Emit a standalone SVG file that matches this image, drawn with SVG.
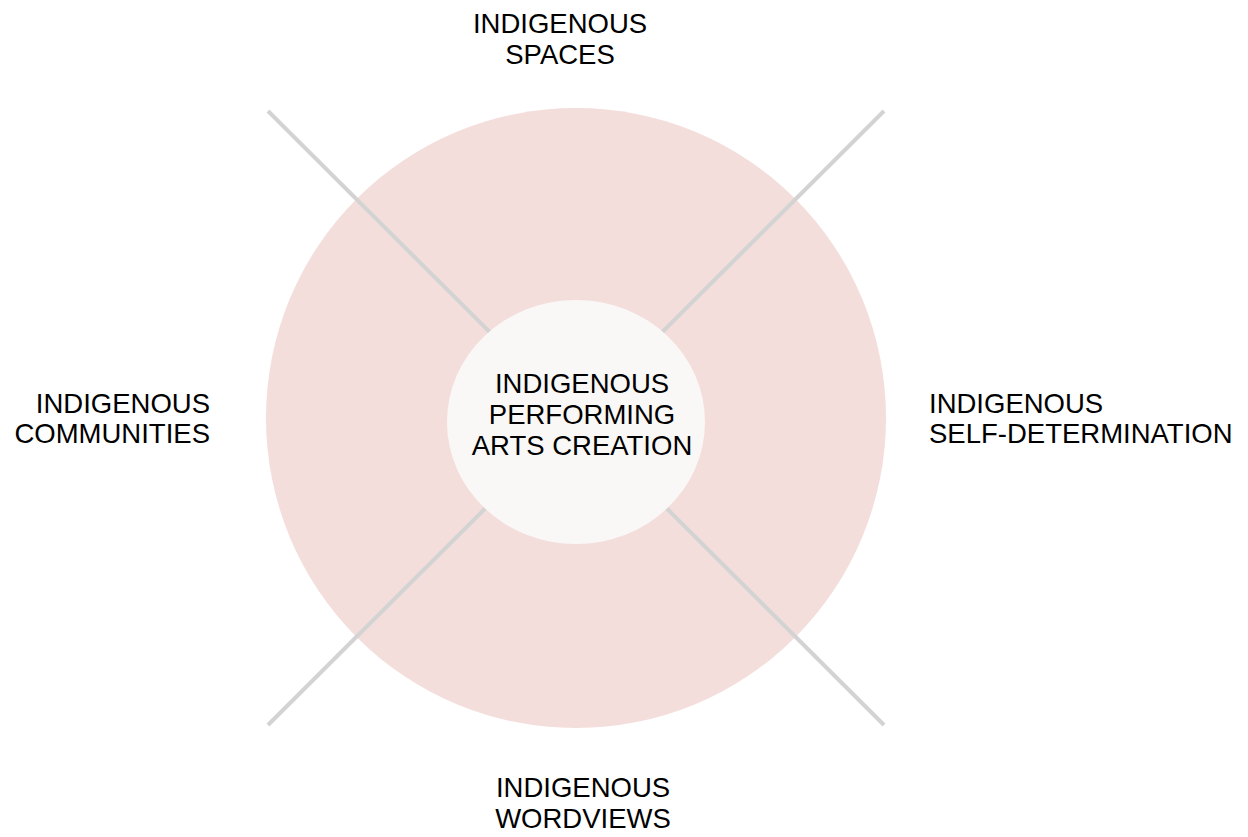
<svg xmlns="http://www.w3.org/2000/svg" width="1248" height="837" viewBox="0 0 1248 837">
<style>
text{font-family:"Liberation Sans",Arial,sans-serif;font-size:27.5px;fill:#000}
.c{text-anchor:middle}.r{text-anchor:end}.l{text-anchor:start}
.conn line{stroke:#d3d3d3;stroke-width:4}
</style>
<rect width="1248" height="837" fill="#fff"/>
<g id="outer"><circle cx="576" cy="418" r="310" fill="#f3dedc"/></g>
<g id="connectors" class="conn">
<line x1="268" y1="111" x2="884" y2="725"/>
<line x1="884" y1="111" x2="268" y2="725"/>
</g>
<g id="center"><ellipse cx="576" cy="422" rx="129" ry="122" fill="#faf8f6"/>
<text class="c" x="582" y="393">INDIGENOUS</text>
<text class="c" x="582" y="424">PERFORMING</text>
<text class="c" x="582" y="455">ARTS CREATION</text></g>
<g id="spaces"><text class="c" x="560" y="33">INDIGENOUS</text><text class="c" x="560" y="64">SPACES</text></g>
<g id="communities"><text class="r" x="210" y="413">INDIGENOUS</text><text class="r" x="210" y="443">COMMUNITIES</text></g>
<g id="selfdetermination"><text class="l" x="929" y="413">INDIGENOUS</text><text class="l" x="929" y="443">SELF-DETERMINATION</text></g>
<g id="worldviews"><text class="c" x="583" y="797">INDIGENOUS</text><text class="c" x="583" y="828">WORDVIEWS</text></g>
</svg>
